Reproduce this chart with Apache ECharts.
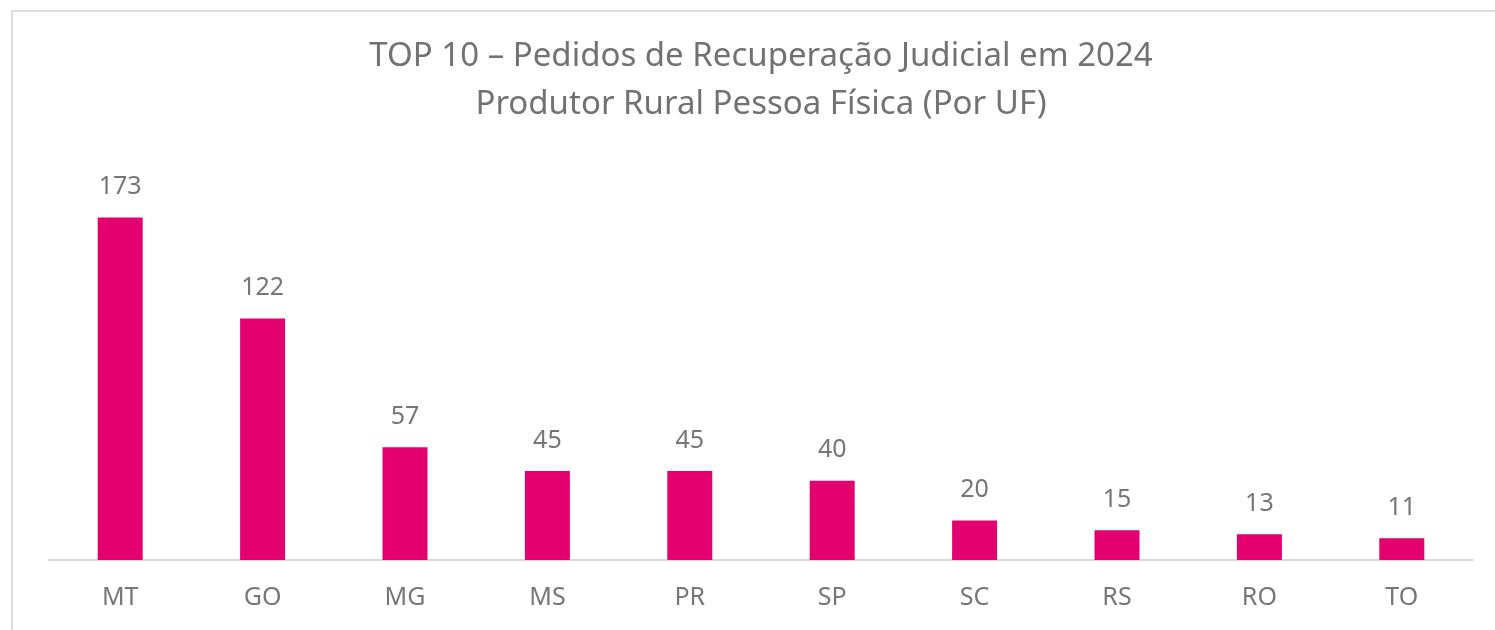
<!DOCTYPE html>
<html>
<head>
<meta charset="utf-8">
<script src="https://cdn.jsdelivr.net/npm/echarts@6/dist/echarts.min.js"></script>
<style>
  html, body { margin: 0; padding: 0; background: #ffffff; overflow: hidden; }
  .frame {
    position: absolute; left: 11px; top: 10px;
    width: 1500px; height: 640px;
    border: 2px solid #dcdcdc; box-sizing: border-box;
  }
  #chart { position: absolute; left: 0; top: 0; width: 1495px; height: 630px; }
</style>
</head>
<body>
<div class="frame"></div>
<div id="chart"></div>
<script>
// estados (UF) e numero de pedidos
const categories = ['MT', 'GO', 'MG', 'MS', 'PR', 'SP', 'SC', 'RS', 'RO', 'TO']
const pedidos = [173, 122, 57, 45, 45, 40, 20, 15, 13, 11]

const titleLines = [
  'TOP 10 \u2013 Pedidos de Recupera\u00e7\u00e3o Judicial em 2024',
  'Produtor Rural Pessoa F\u00edsica (Por UF)'
]

const chart = echarts.init(document.getElementById('chart'))
chart.setOption({
  backgroundColor: 'transparent',
  animation: false,
  title: {
    text: titleLines.join('\n'),
    left: 761,
    top: 33,
    padding: 0,
    textAlign: 'center',
    textStyle: {
      fontFamily: 'Noto Sans',
      fontSize: 33,
      fontWeight: 'normal',
      color: '#727272',
      lineHeight: 48
    }
  },
  grid: {
    left: 49,
    right: 22,
    top: 164,
    bottom: 70
  },
  xAxis: {
    type: 'category',
    data: categories,
    axisLine: { lineStyle: { color: '#d9d9d9', width: 2 } },
    axisTick: { show: false },
    axisLabel: {
      margin: 25,
      fontFamily: 'Noto Sans',
      fontSize: 25,
      color: '#767676'
    }
  },
  yAxis: {
    type: 'value',
    min: 0,
    max: 200,
    show: false,
    splitLine: { show: false }
  },
  series: [{
    type: 'bar',
    data: pedidos,
    barWidth: 45,
    itemStyle: { color: '#e4006e' },
    label: {
      show: true,
      position: 'top',
      distance: 18,
      fontFamily: 'Noto Sans',
      fontSize: 25,
      color: '#767676'
    }
  }]
})
</script>
</body>
</html>
